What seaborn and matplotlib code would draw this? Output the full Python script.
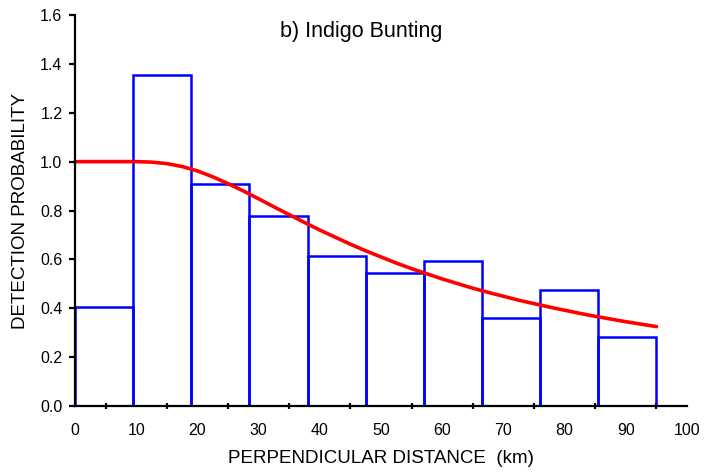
import numpy as np
import pandas as pd
import matplotlib
matplotlib.use("Agg")
import matplotlib.pyplot as plt
from matplotlib.ticker import MultipleLocator, FormatStrFormatter
import seaborn as sns

# Histogram of detections by distance band (scaled to detection probability)
bin_edges = [0, 9.5, 19, 28.5, 38, 47.5, 57, 66.5, 76, 85.5, 95]
bin_heights = [0.405, 1.355, 0.908, 0.777, 0.612, 0.546, 0.593, 0.360, 0.476, 0.284]

# Fitted detection function
curve_x = [0, 2.5, 5, 7.5, 10, 12.5, 15, 17.5, 20, 22.5, 25, 27.5, 30, 32.5,
           35, 37.5, 40, 42.5, 45, 47.5, 50, 52.5, 55, 57.5, 60, 62.5, 65,
           67.5, 70, 72.5, 75, 77.5, 80, 82.5, 85, 87.5, 90, 92.5, 95]
curve_y = [1.000, 1.000, 1.000, 1.000, 1.000, 0.998, 0.992, 0.980, 0.962,
           0.938, 0.910, 0.880, 0.848, 0.815, 0.783, 0.751, 0.720, 0.691,
           0.662, 0.635, 0.610, 0.585, 0.562, 0.541, 0.520, 0.501, 0.482,
           0.465, 0.449, 0.433, 0.419, 0.405, 0.392, 0.379, 0.367, 0.356,
           0.345, 0.335, 0.325]

title = "b) Indigo Bunting"
xlabel = "PERPENDICULAR DISTANCE  (km)"
ylabel = "DETECTION PROBABILITY"

sns.set_theme(style="white", rc={
    "text.color": "black",
    "axes.labelcolor": "black",
    "xtick.color": "black",
    "ytick.color": "black",
})
plt.rcParams["font.family"] = ["Liberation Sans", "DejaVu Sans"]

centers = [(a + b) / 2 for a, b in zip(bin_edges[:-1], bin_edges[1:])]
hist_df = pd.DataFrame({"distance": centers, "prob": bin_heights})
curve_df = pd.DataFrame({"distance": curve_x, "g": curve_y})

fig = plt.figure(figsize=(7.04, 4.76), dpi=100)
ax = fig.add_axes([0.1065, 0.147, 0.8695, 0.8215])

sns.histplot(data=hist_df, x="distance", weights="prob", bins=bin_edges,
             stat="count", element="bars", fill=False, color="#0000ff",
             linewidth=1.8, ax=ax)
sns.lineplot(data=curve_df, x="distance", y="g", color="#ff0000",
             linewidth=2.6, ax=ax)

ax.set_xlim(0, 100)
ax.set_ylim(0, 1.6)
ax.xaxis.set_major_locator(MultipleLocator(10))
ax.xaxis.set_minor_locator(MultipleLocator(5))
ax.yaxis.set_major_locator(MultipleLocator(0.2))
ax.yaxis.set_major_formatter(FormatStrFormatter("%.1f"))

for side in ("top", "right"):
    ax.spines[side].set_visible(False)
for side in ("left", "bottom"):
    ax.spines[side].set_color("black")
    ax.spines[side].set_linewidth(1.6)

ax.tick_params(axis="x", which="major", direction="inout", length=7,
               width=1.6, color="black", labelcolor="black", labelsize=11.5, pad=9)
ax.tick_params(axis="x", which="minor", direction="inout", length=5,
               width=1.6, color="black", bottom=True)
ax.tick_params(axis="y", which="major", direction="out", length=4,
               width=1.6, color="black", labelcolor="black", labelsize=11.5,
               left=True, pad=5)

ax.set_xlabel(xlabel, fontsize=13.5, labelpad=8, color="black")
ax.set_ylabel(ylabel, fontsize=13.5, labelpad=8, color="black")
ax.text(0.468, 0.957, title, transform=ax.transAxes, ha="center",
        va="center", fontsize=15.5, color="black")

fig.savefig("out.png", dpi=100)
